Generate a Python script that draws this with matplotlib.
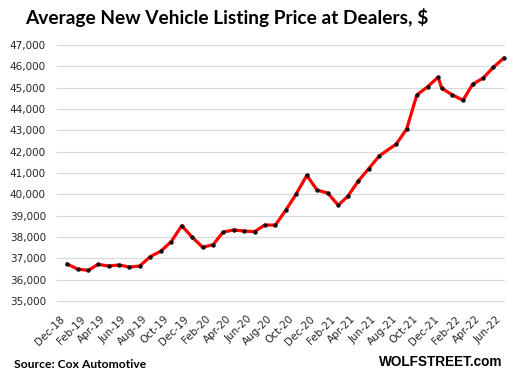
import matplotlib
matplotlib.use("Agg")
import matplotlib.pyplot as plt
import matplotlib.transforms as mtransforms
import pandas as pd

# ---- data ----
dates = (
    list(pd.date_range("2018-12-01", "2021-06-01", freq="MS").strftime("%Y-%m-%d"))
    + ["2021-07-21", "2021-08-20", "2021-09-19", "2021-10-21", "2021-11-20", "2021-12-01"]
    + list(pd.date_range("2022-01-01", "2022-06-01", freq="MS").strftime("%Y-%m-%d"))
)
prices = [
    36730, 36490, 36440, 36720, 36640, 36690, 36590, 36640, 37080, 37340, 37780, 38530,
    38000, 37520, 37640, 38230, 38330, 38280, 38250, 38560, 38560, 39270, 40020, 40890,
    40200, 40060, 39490, 39910, 40630, 41200, 41800,
    42360, 43060, 44660, 45050, 45490, 44970,
    44660, 44410, 45160, 45450, 45960, 46390,
]
tick_dates = list(pd.date_range("2018-12-01", "2022-06-01", freq="2MS"))
tick_labels = [d.strftime("%b-%y") for d in tick_dates]
y_ticks = list(range(35000, 47001, 1000))

title = "Average New Vehicle Listing Price at Dealers, $"
source = "Source: Cox Automotive"
brand = "WOLFSTREET.com"

# ---- figure ----
W, H = 513, 380
fig = plt.figure(figsize=(W / 100, H / 100), dpi=100)
ax_left, ax_right, ax_top, ax_bottom = 57, 504, 45, 301
ax = fig.add_axes([ax_left / W, 1 - ax_bottom / H, (ax_right - ax_left) / W, (ax_bottom - ax_top) / H])

x = pd.to_datetime(dates)
ax.plot(x, prices, color="#ff0000", lw=2.3, solid_joinstyle="round", zorder=3, clip_on=False)
ax.plot(x, prices, ls="none", marker="o", ms=2.2, color="#111111", zorder=4, clip_on=False)

ax.set_ylim(35000, 47000)
ax.set_xlim(pd.Timestamp("2018-11-01"), pd.Timestamp("2022-06-01"))
ax.set_yticks(y_ticks)
ax.set_yticklabels([f"{v:,}" for v in y_ticks])
ax.set_xticks(tick_dates)
ax.set_xticklabels(tick_labels)

for s in ax.spines.values():
    s.set_visible(False)
ax.grid(axis="y", color="#d9d9d9", lw=0.9)
ax.set_axisbelow(True)
for gl in ax.get_ygridlines():
    gl.set_clip_on(False)

ax.tick_params(axis="both", length=0)
ax.tick_params(axis="y", pad=8, labelsize=7.5, labelcolor="#262626")
ax.tick_params(axis="x", pad=0, labelsize=7.5, labelcolor="#262626")
for t in ax.get_yticklabels():
    t.set_fontfamily("DejaVu Sans")
offset = mtransforms.ScaledTranslation(-8 / 100, -13 / 100, fig.dpi_scale_trans)
for t in ax.get_xticklabels():
    t.set_fontfamily("DejaVu Sans")
    t.set_rotation(45)
    t.set_rotation_mode("anchor")
    t.set_ha("right")
    t.set_va("top")
    t.set_transform(t.get_transform() + offset)

fig.text(25 / W, 1 - 17.5 / H, title, fontsize=13.8, fontweight="bold",
         family="Lato", va="center", ha="left", color="#000000")
fig.text(14 / W, 1 - 365 / H, source, fontsize=8.7, fontweight="bold",
         family="Lato", va="center", ha="left", color="#000000")
fig.text(502 / W, 1 - 362.5 / H, brand, fontsize=9.8, fontweight="bold",
         family="Liberation Sans", va="center", ha="right", color="#000000")

fig.savefig("out.png", dpi=100)
